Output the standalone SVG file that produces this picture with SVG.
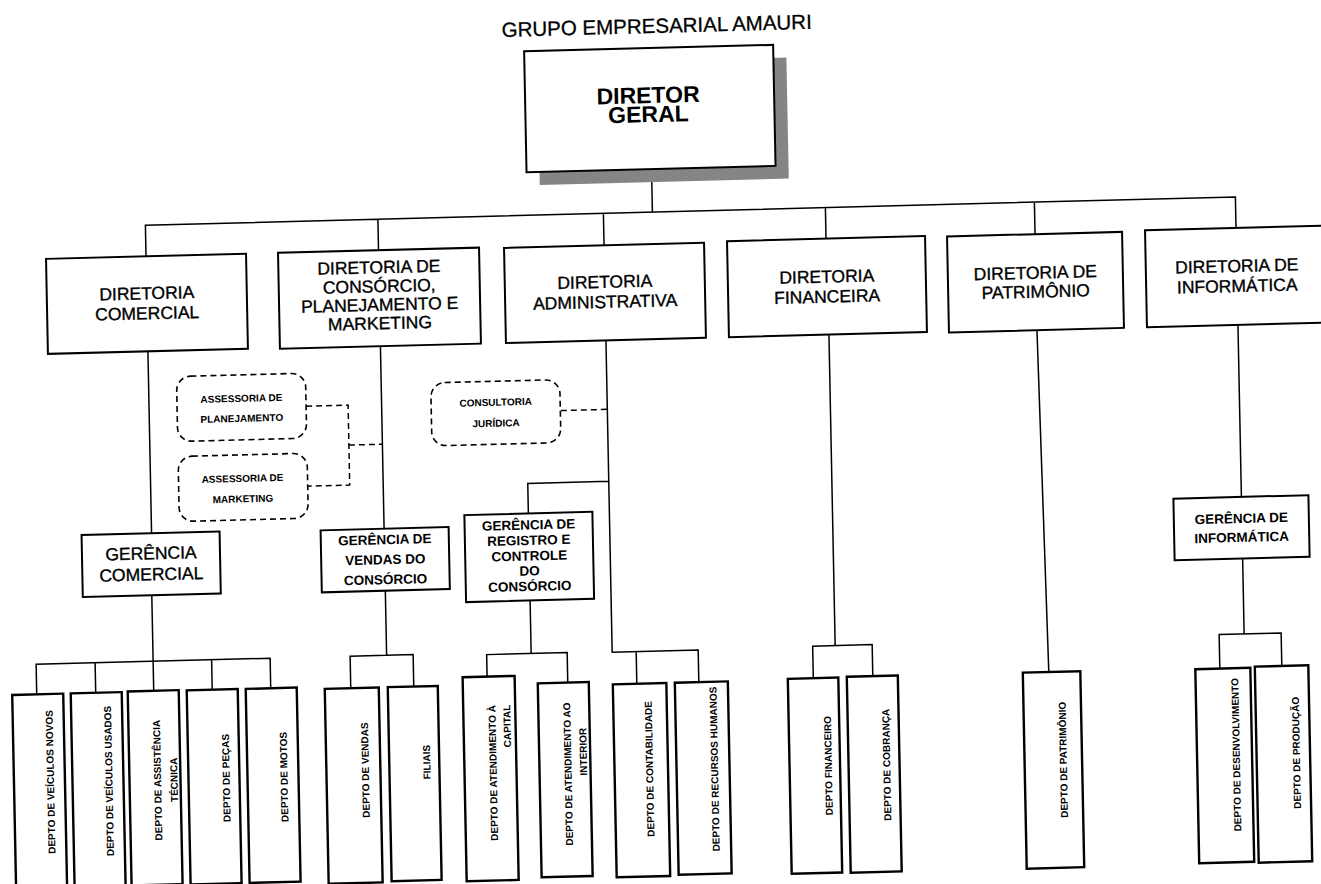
<svg xmlns="http://www.w3.org/2000/svg" width="1321" height="884" viewBox="0 0 1321 884">
<style>
.box{fill:#fff;stroke:#000;stroke-width:2}
.dep{fill:#fff;stroke:#000;stroke-width:2.4}
.dbox{fill:#fff;stroke:#000;stroke-width:1.6;stroke-dasharray:6 4}
.ln{fill:none;stroke:#000;stroke-width:1.5}
.dash{fill:none;stroke:#000;stroke-width:1.5;stroke-dasharray:6 4}
.shadow{fill:#858585}
text{font-family:"Liberation Sans",Arial,sans-serif;fill:#000;text-anchor:middle}
.title{font-size:20.5px;stroke:#000;stroke-width:0.3}
.t0{font-size:23px;font-weight:bold}
.t1{font-size:17.5px;stroke:#000;stroke-width:0.35}
.tg{font-size:13.5px;font-weight:bold}
.ts{font-size:10px;font-weight:bold}
.tv{font-size:10px;font-weight:bold}
</style>
<rect width="1321" height="884" fill="#fff"/>
<g transform="matrix(1,-0.026,0.02,1,-8.84,17.16)">
<text class="title" x="665" y="33">GRUPO EMPRESARIAL AMAURI</text>

<g id="connectors">
<path class="ln" d="M657 169V212M150 243V212H1240V243M382.5 212V243M608 212V244M830 212V243M1039 212V244"/>
<path class="ln" d="M150 338V520M149 582V678M32 678V648H266V678M91 648V678M207.5 648V678"/>
<path class="ln" d="M382.5 339V521.5M382.5 583V648M346 680V648H409V680"/>
<path class="dash" d="M307 397H349V477H306.5M349 437H382.5"/>
<path class="ln" d="M608 339V651H694V683M632 651V683M608 480H527V510"/>
<path class="dash" d="M561.5 408H608"/>
<path class="ln" d="M527 597V650M482.5 672V650H563V680"/>
<path class="ln" d="M831 339V650M808.5 682V650H868V681.5"/>
<path class="ln" d="M1039 340L1044 682"/>
<path class="ln" d="M1240 340V512M1240 573.5V649M1215 683V649H1277V682"/>
</g>

<g id="diretor-geral">
<rect class="shadow" x="545" y="61" width="249" height="121"/>
<rect class="box" x="532" y="48" width="249" height="121"/>
<text class="t0" x="655" y="103">DIRETOR</text>
<text class="t0" x="655" y="122">GERAL</text>
</g>

<g id="dir-comercial">
<rect class="box" x="50" y="243" width="200" height="95"/>
<text class="t1" x="150" y="286">DIRETORIA</text>
<text class="t1" x="150" y="306">COMERCIAL</text>
</g>
<g id="dir-consorcio">
<rect class="box" x="282" y="243" width="201" height="96"/>
<text class="t1" x="382.5" y="266">DIRETORIA DE</text>
<text class="t1" x="382.5" y="285">CONSÓRCIO,</text>
<text class="t1" x="382.5" y="303.5">PLANEJAMENTO E</text>
<text class="t1" x="382.5" y="322">MARKETING</text>
</g>
<g id="dir-administrativa">
<rect class="box" x="508" y="244" width="200" height="95"/>
<text class="t1" x="608" y="286.5">DIRETORIA</text>
<text class="t1" x="608" y="306.5">ADMINISTRATIVA</text>
</g>
<g id="dir-financeira">
<rect class="box" x="731" y="243" width="198" height="96"/>
<text class="t1" x="830" y="287">DIRETORIA</text>
<text class="t1" x="830" y="307">FINANCEIRA</text>
</g>
<g id="dir-patrimonio">
<rect class="box" x="951" y="244" width="175" height="96"/>
<text class="t1" x="1038.5" y="288.5">DIRETORIA DE</text>
<text class="t1" x="1038.5" y="307.5">PATRIMÔNIO</text>
</g>
<g id="dir-informatica">
<rect class="box" x="1149" y="243" width="184" height="97"/>
<text class="t1" x="1240" y="287">DIRETORIA DE</text>
<text class="t1" x="1240" y="307">INFORMÁTICA</text>
</g>

<g id="assessoria-planejamento">
<rect class="dbox" x="178" y="364" width="129" height="65" rx="14"/>
<text class="ts" x="242.5" y="391">ASSESSORIA DE</text>
<text class="ts" x="242.5" y="411">PLANEJAMENTO</text>
</g>
<g id="assessoria-marketing">
<rect class="dbox" x="178" y="444" width="129" height="65" rx="14"/>
<text class="ts" x="242" y="471">ASSESSORIA DE</text>
<text class="ts" x="242" y="491.5">MARKETING</text>
</g>
<g id="consultoria-juridica">
<rect class="dbox" x="432" y="377" width="129" height="63" rx="14"/>
<text class="ts" x="496.5" y="401.5">CONSULTORIA</text>
<text class="ts" x="496.5" y="422.5">JURÍDICA</text>
</g>

<g id="ger-comercial">
<rect class="box" x="80" y="520" width="138" height="62"/>
<text class="t1" x="149" y="546">GERÊNCIA</text>
<text class="t1" x="149" y="567">COMERCIAL</text>
</g>
<g id="ger-vendas">
<rect class="box" x="319" y="521.5" width="128" height="62"/>
<text class="tg" x="383" y="537">GERÊNCIA DE</text>
<text class="tg" x="383" y="557">VENDAS DO</text>
<text class="tg" x="383" y="577">CONSÓRCIO</text>
</g>
<g id="ger-registro">
<rect class="box" x="463" y="510" width="128" height="87"/>
<text class="tg" x="527" y="526">GERÊNCIA DE</text>
<text class="tg" x="527" y="541.5">REGISTRO E</text>
<text class="tg" x="527" y="557">CONTROLE</text>
<text class="tg" x="527" y="572">DO</text>
<text class="tg" x="527" y="587.5">CONSÓRCIO</text>
</g>
<g id="ger-informatica">
<rect class="box" x="1172" y="512" width="135" height="61.5"/>
<text class="tg" x="1239.5" y="538">GERÊNCIA DE</text>
<text class="tg" x="1239.5" y="557">INFORMÁTICA</text>
</g>

<g id="depto-veiculos-novos">
<rect class="dep" x="7.5" y="678" width="51" height="194"/>
<text class="tv" transform="translate(47.5 766) rotate(-90)">DEPTO DE VEÍCULOS NOVOS</text>
</g>
<g id="depto-veiculos-usados">
<rect class="dep" x="66" y="678" width="51" height="194"/>
<text class="tv" transform="translate(106 766.5) rotate(-90)">DEPTO DE VEÍCULOS USADOS</text>
</g>
<g id="depto-assistencia">
<rect class="dep" x="123" y="677.5" width="51" height="194"/>
<text class="tv" transform="translate(154.6 767) rotate(-90)">DEPTO DE ASSISTÊNCIA</text>
<text class="tv" transform="translate(171 767) rotate(-90)">TÉCNICA</text>
</g>
<g id="depto-pecas">
<rect class="dep" x="182" y="678" width="51" height="194"/>
<text class="tv" transform="translate(223.2 766.5) rotate(-90)">DEPTO DE PEÇAS</text>
</g>
<g id="depto-motos">
<rect class="dep" x="241" y="678" width="51" height="194"/>
<text class="tv" transform="translate(281 767) rotate(-90)">DEPTO DE MOTOS</text>
</g>
<g id="depto-vendas">
<rect class="dep" x="320" y="680" width="54" height="195"/>
<text class="tv" transform="translate(362.5 762.3) rotate(-90)">DEPTO DE VENDAS</text>
</g>
<g id="filiais">
<rect class="dep" x="383" y="680" width="50" height="194"/>
<text class="tv" transform="translate(424 756) rotate(-90)">FILIAIS</text>
</g>
<g id="depto-atendimento-capital">
<rect class="dep" x="458" y="672" width="52" height="204"/>
<text class="tv" style="text-anchor:end" transform="translate(490.2 700.6) rotate(-90)">DEPTO DE ATENDIMENTO À</text>
<text class="tv" style="text-anchor:end" transform="translate(505 700.6) rotate(-90)">CAPITAL</text>
</g>
<g id="depto-atendimento-interior">
<rect class="dep" x="533" y="680" width="51" height="194"/>
<text class="tv" transform="translate(565 771.5) rotate(-90)">DEPTO DE ATENDIMENTO AO</text>
<text class="tv" transform="translate(580.5 749.5) rotate(-90)">INTERIOR</text>
</g>
<g id="depto-contabilidade">
<rect class="dep" x="608" y="683" width="53.5" height="193"/>
<text class="tv" transform="translate(646.5 768.5) rotate(-90)">DEPTO DE CONTABILIDADE</text>
</g>
<g id="depto-rh">
<rect class="dep" x="670" y="683" width="53" height="192"/>
<text class="tv" transform="translate(711.5 770.3) rotate(-90)">DEPTO DE RECURSOS HUMANOS</text>
</g>
<g id="depto-financeiro">
<rect class="dep" x="783" y="682" width="50.5" height="195"/>
<text class="tv" transform="translate(825.3 769.8) rotate(-90)">DEPTO FINANCEIRO</text>
</g>
<g id="depto-cobranca">
<rect class="dep" x="842" y="681.5" width="51" height="196"/>
<text class="tv" transform="translate(883.6 770.5) rotate(-90)">DEPTO DE COBRANÇA</text>
</g>
<g id="depto-patrimonio">
<rect class="dep" x="1018" y="682" width="57.5" height="196"/>
<text class="tv" transform="translate(1060.2 770.2) rotate(-90)">DEPTO DE PATRIMÔNIO</text>
</g>
<g id="depto-desenvolvimento">
<rect class="dep" x="1190.5" y="683" width="55" height="194"/>
<text class="tv" transform="translate(1233.2 769.6) rotate(-90)">DEPTO DE DESENVOLVIMENTO</text>
</g>
<g id="depto-producao">
<rect class="dep" x="1250" y="682" width="53.5" height="196"/>
<text class="tv" transform="translate(1293.3 769.2) rotate(-90)">DEPTO DE PRODUÇÃO</text>
</g>
</g>
</svg>
